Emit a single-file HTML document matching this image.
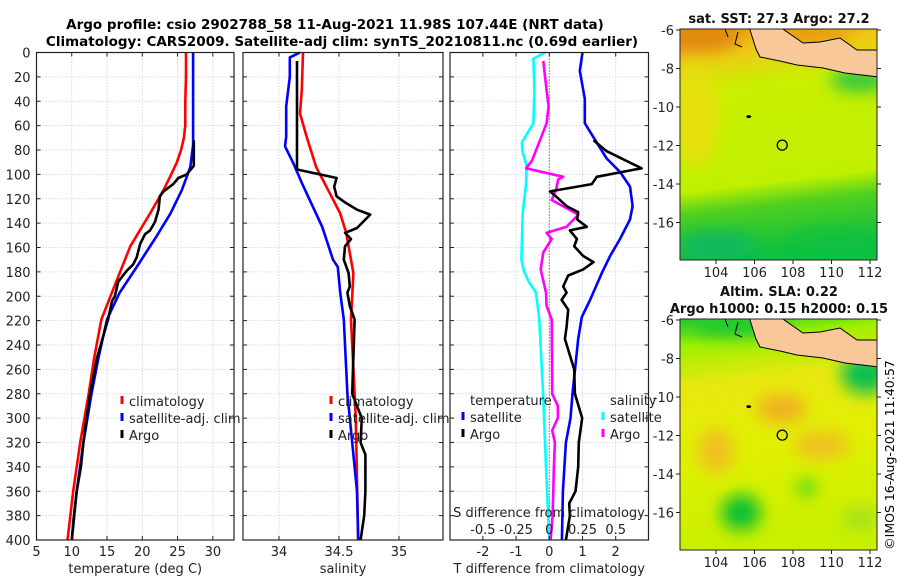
<!DOCTYPE html>
<html><head><meta charset="utf-8"><style>
html,body{margin:0;padding:0;background:#fff;width:900px;height:580px;overflow:hidden}
svg{font-family:"DejaVu Sans","Liberation Sans",sans-serif}
</style></head><body>
<svg id="chart" width="900" height="580" viewBox="0 0 900 580" xmlns="http://www.w3.org/2000/svg">
<text x="335" y="29" font-size="13.5" font-weight="bold" text-anchor="middle">Argo profile: csio 2902788_58 11-Aug-2021 11.98S 107.44E (NRT data)</text>
<text x="342" y="46" font-size="13.5" font-weight="bold" text-anchor="middle">Climatology: CARS2009. Satellite-adj clim: synTS_20210811.nc (0.69d earlier)</text>
<g id="panels"></g>
<g id="maps"></g>
<text transform="translate(894,455) rotate(-90)" font-size="12.5" text-anchor="middle">©IMOS 16-Aug-2021 11:40:57</text>
</svg>
<script>
// depth levels & values
const tClimDepth = [0,20,40,60,70,80,90,100,113,132,159,191,219,250,280,320,360,400];
const tClimVal   = [26.2,26.2,26.1,26.1,25.9,25.5,24.9,24.1,23,21.1,18.3,16.1,14.2,13.2,12.4,11.2,10.2,9.4];
const tSatDepth = [0,20,40,60,76,94,113,132,151,176,197,219,250,280,320,360,400];
const tSatVal   = [27.2,27.2,27.2,27.2,27.2,26.8,25.6,24,22,19.2,16.8,15,13.8,12.8,11.65,10.7,10];
const tArgoDepth = [72,93,100,103,108,114,118,129,139,146,149,157,168,174,179,188,200,204,218,250,280,300,320,340,360,380,400];
const tArgoVal   = [27.3,27.3,26.3,25.1,24.4,23,22.5,22.3,21.8,21.1,20.4,19.7,19.2,18.7,17.8,16.6,16.1,15.7,15.2,13.6,12.6,12.1,11.65,11.3,10.7,10.3,10];

const sClimDepth = [0,31,50,69,94,113,132,148,170,181,219,260,300,350,400];
const sClimVal   = [34.2,34.19,34.175,34.23,34.31,34.41,34.51,34.56,34.6,34.62,34.6,34.62,34.64,34.65,34.66];
const sSatDepth = [0,4,20,44,69,77,91,107,124,143,170,176,197,219,280,320,360,400];
const sSatVal   = [34.175,34.09,34.09,34.06,34.06,34.05,34.12,34.19,34.27,34.36,34.45,34.49,34.51,34.54,34.57,34.61,34.65,34.66];
const sArgoDepth = [7,96,100,103,110,118,123,129,133,144,148,153,159,170,181,192,197,208,219,250,280,300,320,330,360,380,400];
const sArgoVal   = [34.15,34.15,34.34,34.48,34.46,34.48,34.55,34.65,34.76,34.65,34.55,34.6,34.55,34.54,34.58,34.59,34.57,34.59,34.63,34.62,34.61,34.69,34.68,34.72,34.72,34.71,34.68];

// differences: T in deg C, S in psu
const dTSatDepth = [0,15,38,58,74,87,98,110,126,137,153,167,181,203,217,235,280,300,320,360,400];
const dTSatVal   = [1.0,0.92,1.07,1.07,1.43,1.73,2.13,2.43,2.51,2.43,2.13,1.83,1.58,1.23,0.98,0.87,0.7,0.64,0.5,0.41,0.38];
const dTArgoDepth = [72,81,95,102,108,114,118,126,131,137,143,146,153,159,167,172,178,183,192,197,203,211,225,235,260,280,300,320,340,360,370,380,400];
const dTArgoVal   = [1.33,1.73,2.78,1.43,1.28,0.02,0.2,0.52,0.87,0.84,1.13,0.62,0.83,0.75,1.02,1.33,1.02,0.57,0.42,0.52,0.37,0.57,0.52,0.47,0.75,0.77,0.99,0.89,0.87,0.79,0.6,0.62,0.5];
const dSSatDepth = [0,5,31,58,74,82,93,107,132,170,179,188,197,219,280,340,400];
const dSSatVal   = [-0.032,-0.12,-0.112,-0.12,-0.207,-0.2,-0.17,-0.175,-0.2,-0.21,-0.192,-0.155,-0.1,-0.075,-0.047,-0.025,0];
const dSArgoDepth = [7,31,44,58,72,89,95,102,104,113,121,133,143,148,153,164,178,197,208,219,280,290,300,310,320,340,360,380,400];
const dSArgoVal   = [-0.045,-0.02,-0.005,-0.02,-0.07,-0.132,-0.175,0.105,0.068,0.05,0.018,0.218,0.13,-0.02,0.018,-0.045,-0.065,-0.025,-0.02,0.018,0.022,0.065,0.065,0.022,0.042,0.035,0.03,0.025,0.01];

const depthTicks = [0,20,40,60,80,100,120,140,160,180,200,220,240,260,280,300,320,340,360,380,400];
const tTicks = [5,10,15,20,25,30];
const sTicks = [34,34.5,35];
const sTickLabels = ["34","34.5","35"];
const dTTicks = [-2,-1,0,1,2];
const dSTicks = [-0.5,-0.25,0,0.25,0.5];
const dSTickLabels = ["-0.5","-0.25","0","0.25","0.5"];
const latTicks = [-6,-8,-10,-12,-14,-16];
const lonTicks = [104,106,108,110,112];

const NS = "http://www.w3.org/2000/svg";
function mk(tag, attrs, parent){const e=document.createElementNS(NS,tag);for(const k in attrs)e.setAttribute(k,attrs[k]);if(parent)parent.appendChild(e);return e;}
const Y0=52.5, Y1=540;
const yD = d => Y0 + d*(Y1-Y0)/400;
function lin(d0,d1,p0,p1){return v=>p0+(v-d0)*(p1-p0)/(d1-d0);}
const panels=document.getElementById('panels');

function panel(name,x0,x1,xs,xticks){
  const g=mk('g',{},panels);
  
  
  depthTicks.forEach(d=>{const l=mk('line',{x1:x0,x2:x1,y1:yD(d),y2:yD(d),stroke:'#c8d0e8','stroke-width':0.8,'stroke-dasharray':'1.5,1.5'},g);
    
    });
  xticks.forEach(v=>{const l=mk('line',{x1:xs(v),x2:xs(v),y1:Y0,y2:Y1,stroke:'#c8d0e8','stroke-width':0.8,'stroke-dasharray':'1.5,1.5'},g);
    
    });
  return g;
}
function frame(g,x0,x1,xs,xticks,xlabels,xtitle,showY){
  depthTicks.forEach(d=>{mk('line',{x1:x0,x2:x0+4,y1:yD(d),y2:yD(d),stroke:'#222'},g);mk('line',{x1:x1-4,x2:x1,y1:yD(d),y2:yD(d),stroke:'#222'},g);
    if(showY){const t=mk('text',{x:x0-6,y:yD(d)+5,'font-size':13,'text-anchor':'end',fill:'#222'},g);t.textContent=d;
      
      }});
  xticks.forEach((v,i)=>{mk('line',{x1:xs(v),x2:xs(v),y1:Y1,y2:Y1-4,stroke:'#222'},g);mk('line',{x1:xs(v),x2:xs(v),y1:Y0,y2:Y0+4,stroke:'#222'},g);
    if(xlabels){const t=mk('text',{x:xs(v),y:556,'font-size':13,'text-anchor':'middle',fill:'#222'},g);t.textContent=xlabels[i];
      
      }});
  const r=mk('rect',{x:x0,y:Y0,width:x1-x0,height:Y1-Y0,fill:'none',stroke:'#222','stroke-width':1.2},g);
  
  
  const tt=mk('text',{x:(x0+x1)/2,y:573,'font-size':13,'text-anchor':'middle',fill:'#222'},g);tt.textContent=xtitle;
  
  
}
function series(g,xs,depths,vals,color,name){
  const pts=depths.map((d,i)=>xs(vals[i]).toFixed(1)+','+yD(d).toFixed(1)).join(' ');
  const p=mk('polyline',{points:pts,fill:'none',stroke:color,'stroke-width':2.6,'stroke-linejoin':'round'},g);
  
  
}
function legend(g,x,y,items){
  items.forEach((it,i)=>{
    const yy=y+i*17;
    if(it.c){const m=mk('line',{x1:x,x2:x,y1:yy-10,y2:yy-2,stroke:it.c,'stroke-width':3},g);
      
      }
    const t=mk('text',{x:x+7,y:yy,'font-size':13,fill:'#222'},g);t.textContent=it.t;
    
    
  });
}
{const x0=36.5,x1=234,xs=lin(5,33,x0,x1);
 const g=panel('temperature-panel',x0,x1,xs,tTicks);
 series(g,xs,tClimDepth,tClimVal,'#ff0000','temp-climatology-line');
 series(g,xs,tSatDepth,tSatVal,'#0000ff','temp-satellite-line');
 series(g,xs,tArgoDepth,tArgoVal,'#000000','temp-argo-line');
 frame(g,x0,x1,xs,tTicks,tTicks.map(String),'temperature (deg C)',true);
 legend(g,122,406,[{c:'#ff0000',t:'climatology'},{c:'#0000ff',t:'satellite-adj. clim'},{c:'#000',t:'Argo'}]);}
{const x0=243,x1=443,xs=lin(34,35,279,399);
 const g=panel('salinity-panel',x0,x1,xs,sTicks);
 series(g,xs,sClimDepth,sClimVal,'#ff0000','sal-climatology-line');
 series(g,xs,sSatDepth,sSatVal,'#0000ff','sal-satellite-line');
 series(g,xs,sArgoDepth,sArgoVal,'#000000','sal-argo-line');
 frame(g,x0,x1,xs,sTicks,sTickLabels,'salinity',false);
 legend(g,331,406,[{c:'#ff0000',t:'climatology'},{c:'#0000ff',t:'satellite-adj. clim'},{c:'#000',t:'Argo'}]);}
{const x0=450,x1=648.5,xs=lin(0,1,549.3,582.5),xss=lin(0,0.25,549.3,582.5);
 const g=panel('difference-panel',x0,x1,xs,dTTicks);
 const z=mk('line',{x1:xs(0),x2:xs(0),y1:Y0,y2:Y1,stroke:'#333','stroke-width':1,'stroke-dasharray':'1,2'},g);
 
 
 series(g,xss,dSSatDepth,dSSatVal,'#00ffff','sal-diff-satellite-line');
 series(g,xss,dSArgoDepth,dSArgoVal,'#ff00ff','sal-diff-argo-line');
 series(g,xs,dTSatDepth,dTSatVal,'#0000ff','temp-diff-satellite-line');
 series(g,xs,dTArgoDepth,dTArgoVal,'#000000','temp-diff-argo-line');
 frame(g,x0,x1,xs,dTTicks,dTTicks.map(String),'T difference from climatology',false);
 const st=mk('text',{x:549,y:517,'font-size':13,'text-anchor':'middle',fill:'#222'},g);st.textContent='S difference from climatology';
 
 
 dSTicks.forEach((v,i)=>{const t=mk('text',{x:xss(v),y:534,'font-size':13,'text-anchor':'middle',fill:'#222'},g);t.textContent=dSTickLabels[i];
   
   });
 legend(g,463,405,[{t:'temperature'},{c:'#0000ff',t:'satellite'},{c:'#000',t:'Argo'}]);
 legend(g,603,405,[{t:'salinity'},{c:'#00ffff',t:'satellite'},{c:'#ff00ff',t:'Argo'}]);}

const maps=document.getElementById('maps');
function map(name,y0,y1,bgStops,blobs,ttl,seaTop){
  const x0=680,x1=877;
  const lonS=lin(104,112,716,870);
  const latS=lin(-6,-16,y0+1,y0+1+(y1-y0)*(192.5/231));
  const g=mk('g',{},maps);
  
  
  const id=name+'-grad';
  const defs=mk('defs',{},g);
  const lg=mk('linearGradient',{id:id,x1:0,y1:0,x2:0.1,y2:1},defs);
  bgStops.forEach(s=>mk('stop',{offset:s[0],'stop-color':s[1]},lg));
  const fl=mk('filter',{id:id+'-blur',x:'-50%',y:'-50%',width:'200%',height:'200%'},defs);
  mk('feGaussianBlur',{stdDeviation:8},fl);
  const cp=mk('clipPath',{id:id+'-clip'},defs);
  mk('rect',{x:x0,y:y0,width:x1-x0,height:y1-y0},cp);
  const inner=mk('g',{'clip-path':'url(#'+id+'-clip)'},g);
  mk('rect',{x:x0,y:y0,width:x1-x0,height:y1-y0,fill:'url(#'+id+')'},inner);
  const bg=mk('g',{filter:'url(#'+id+'-blur)'},inner);
  blobs.forEach(b=>mk('ellipse',{cx:lonS(b[0]),cy:latS(b[1]),rx:b[2],ry:b[3],fill:b[4]},bg));
  const land=mk('path',{d:`M ${x0+68} ${y0-2} L ${x0+70} ${y0+1} L ${x0+76} ${y0+20} L ${x0+80} ${y0+28} L ${x0+100} ${y0+32} L ${x0+117} ${y0+36} L ${x0+143} ${y0+39} L ${x0+165} ${y0+44} L ${x1+2} ${y0+48} L ${x1+2} ${y0+21} L ${x0+177} ${y0+21} L ${x0+160} ${y0+9} L ${x0+140} ${y0+13} L ${x0+123} ${y0+14} L ${x0+100} ${y0-2} Z`,fill:'#f8c898',stroke:'#000','stroke-width':1},inner);
  
  
  mk('path',{d:`M ${x0+45} ${y0} L ${x0+48} ${y0+8} M ${x0+58} ${y0+3} L ${x0+55} ${y0+15} L ${x0+62} ${y0+18}`,fill:'none',stroke:'#000','stroke-width':1},inner);
  mk('ellipse',{cx:lonS(105.7),cy:latS(-10.5),rx:2.5,ry:1.5,fill:'#000'},inner);
  const c=mk('circle',{cx:lonS(107.44),cy:latS(-11.98),r:5,fill:'none',stroke:'#000','stroke-width':1.3},g);
  
  
  mk('rect',{x:x0,y:y0,width:x1-x0,height:y1-y0,fill:'none',stroke:'#222','stroke-width':1},g);
  latTicks.forEach(v=>{mk('line',{x1:x0,x2:x0-4,y1:latS(v),y2:latS(v),stroke:'#222'},g);mk('line',{x1:x1,x2:x1+4,y1:latS(v),y2:latS(v),stroke:'#222'},g);
    const t=mk('text',{x:x0-6,y:latS(v)+5,'font-size':13,'text-anchor':'end',fill:'#222'},g);t.textContent=v;
    
    });
  lonTicks.forEach(v=>{mk('line',{x1:lonS(v),x2:lonS(v),y1:y1,y2:y1+4,stroke:'#222'},g);
    const t=mk('text',{x:lonS(v),y:y1+17,'font-size':13,'text-anchor':'middle',fill:'#222'},g);t.textContent=v;
    
    });
  ttl.forEach((s,i)=>{const t=mk('text',{x:779,y:y0-6-(ttl.length-1-i)*17,'font-size':13,'font-weight':'bold','text-anchor':'middle',fill:'#111'},g);t.textContent=s;
    
    });
}
map('sst-map',29,260,[[0,'#e8a018'],[0.12,'#f0c818'],[0.28,'#c8f000'],[0.7,'#c0f000'],[0.8,'#50d020'],[1,'#10c040']],
  [[103,-6.3,45,16,'#e08810'],[109,-6.2,40,10,'#e89810'],[103,-10.5,22,50,'#e8e010'],[111.5,-8.6,30,12,'#30c840'],[104,-17.2,40,14,'#10b860'],[110,-17,40,10,'#10c040']],
  ['sat. SST: 27.3 Argo: 27.2']);
map('sla-map',319,550,[[0,'#20c830'],[0.12,'#a0f000'],[0.3,'#e8e810'],[0.6,'#e0f000'],[1,'#c8f000']],
  [[105,-6.3,45,12,'#20c830'],[111.8,-8.8,25,20,'#10c050'],[107.4,-10.6,25,14,'#f0b020'],[104,-12.8,18,22,'#f0c020'],[109.5,-12.5,28,14,'#f0c020'],[105.3,-16,20,18,'#10c030'],[108.7,-14.7,9,8,'#30d020'],[111.5,-16.3,18,10,'#a0e020']],
  ['Altim. SLA: 0.22','Argo h1000: 0.15 h2000: 0.15']);
</script>
</body></html>
